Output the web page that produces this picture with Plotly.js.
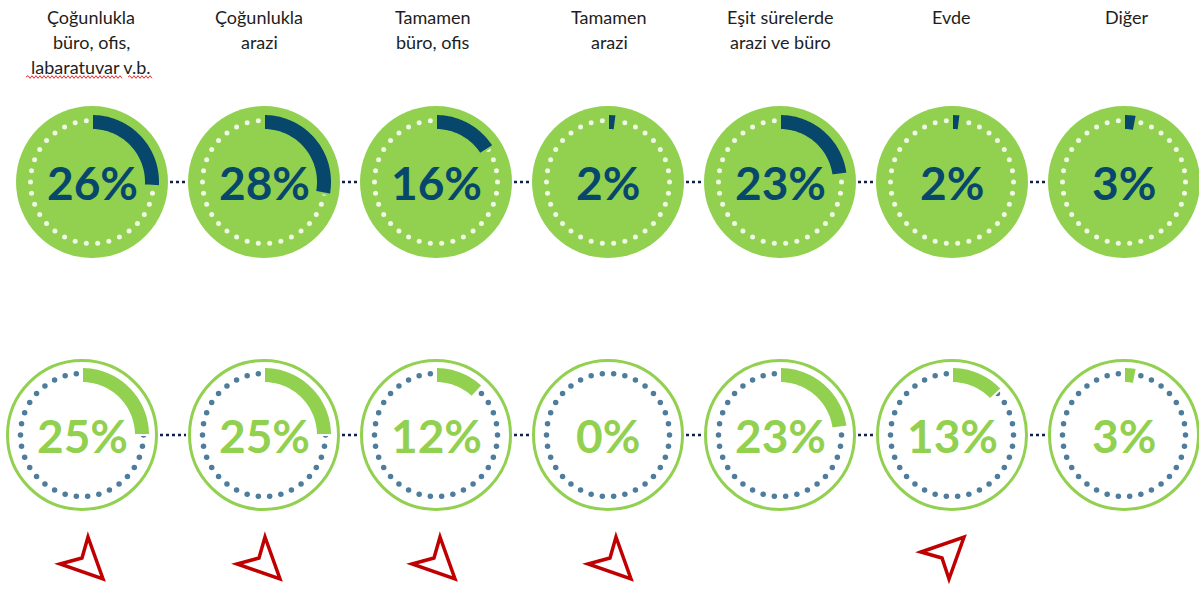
<!DOCTYPE html>
<html><head><meta charset="utf-8">
<script src="https://cdn.plot.ly/plotly-3.0.1.min.js"></script>
<style>html,body{margin:0;padding:0;background:#fff;overflow:hidden}#chart{width:1199px;height:590px}</style>
</head><body><div id="chart"></div>
<script>
// ---- data ----
const categories = [
  "Çoğunlukla<br>büro, ofis,<br>labaratuvar v.b.",
  "Çoğunlukla<br>arazi",
  "Tamamen<br>büro, ofis",
  "Tamamen<br>arazi",
  "Eşit sürelerde<br>arazi ve büro",
  "Evde",
  "Diğer"
];
const topValues = [26, 28, 16, 2, 23, 2, 3];
const bottomValues = [25, 25, 12, 0, 23, 13, 3];

// ---- layout constants ----
const W = 1199, H = 590;
const STEP = 172, X0 = 92;
const TOP_Y = 182, BOT_Y = 435;
const R_CIRCLE = 76, R_DOTS = 61.5, R_IN = 52, R_OUT = 68;
const N_DOTS = 34;
const GREEN = '#92d050', NAVY = '#07476c', DOTBLUE = '#4d7c9c', LINK = '#0f1f4f', RED = '#c00000';
const colX = i => X0 + STEP * i;
const botX = i => colX(i) + (i === 0 ? -10 : 0);
const headerNudge = [-1, -5, -3, 1, 0, -1, 3];
const arrowNudge = [-10, -5, -2, 2, 0, -10, 0];

function arcPath(cx, cy, rIn, rOut, pct) {
  const a1 = pct / 100 * 2 * Math.PI;
  const n = Math.max(4, Math.ceil(pct * 2));
  const pts = [];
  for (let k = 0; k <= n; k++) { const a = a1 * k / n; pts.push([cx + rOut * Math.sin(a), cy - rOut * Math.cos(a)]); }
  for (let k = n; k >= 0; k--) { const a = a1 * k / n; pts.push([cx + rIn * Math.sin(a), cy - rIn * Math.cos(a)]); }
  return 'M' + pts.map(p => p[0].toFixed(2) + ',' + p[1].toFixed(2)).join('L') + 'Z';
}

const shapes = [], annotations = [], traces = [];
const topDotsX = [], topDotsY = [], botDotsX = [], botDotsY = [];

categories.forEach((cat, i) => {
  const tx = colX(i), bx = botX(i);
  shapes.push({type: 'circle', layer: 'below', xref: 'x', yref: 'y',
    x0: tx - R_CIRCLE, x1: tx + R_CIRCLE, y0: TOP_Y - R_CIRCLE, y1: TOP_Y + R_CIRCLE,
    fillcolor: GREEN, line: {width: 0}});
  shapes.push({type: 'circle', layer: 'below', xref: 'x', yref: 'y',
    x0: bx - R_CIRCLE + 1.5, x1: bx + R_CIRCLE - 1.5, y0: BOT_Y - R_CIRCLE + 1.5, y1: BOT_Y + R_CIRCLE - 1.5,
    fillcolor: 'rgba(0,0,0,0)', line: {width: 3, color: GREEN}});
  for (let k = 0; k < N_DOTS; k++) {
    const a = -Math.PI / 2 + 2 * Math.PI * k / N_DOTS;
    topDotsX.push(tx + R_DOTS * Math.sin(a)); topDotsY.push(TOP_Y - R_DOTS * Math.cos(a));
    botDotsX.push(bx + R_DOTS * Math.sin(a)); botDotsY.push(BOT_Y - R_DOTS * Math.cos(a));
  }
  if (topValues[i] > 0) shapes.push({type: 'path', layer: 'above', xref: 'x', yref: 'y',
    path: arcPath(tx, TOP_Y, R_IN, R_OUT, topValues[i]), fillcolor: NAVY, line: {width: 2, color: GREEN}});
  if (bottomValues[i] > 0) shapes.push({type: 'path', layer: 'above', xref: 'x', yref: 'y',
    path: arcPath(bx, BOT_Y, R_IN, R_OUT, bottomValues[i]), fillcolor: GREEN, line: {width: 2, color: '#ffffff'}});
  annotations.push({x: tx, y: TOP_Y, xref: 'x', yref: 'y', showarrow: false, xanchor: 'center', yanchor: 'middle',
    text: topValues[i] + '%', font: {family: 'Lato', size: 46, weight: 700, color: NAVY}});
  annotations.push({x: bx, y: BOT_Y, xref: 'x', yref: 'y', showarrow: false, xanchor: 'center', yanchor: 'middle',
    text: bottomValues[i] + '%', font: {family: 'Lato', size: 46, weight: 700, color: GREEN}});
  cat.split('<br>').forEach((line, k) => {
    annotations.push({x: tx + headerNudge[i], y: 17 + 25 * k, xref: 'x', yref: 'y', showarrow: false,
      xanchor: 'center', yanchor: 'middle', text: line, font: {family: 'Lato', size: 18, color: '#1e1e1e'}});
  });
  if (i < categories.length - 1) {
    shapes.push({type: 'line', xref: 'x', yref: 'y', x0: tx + R_CIRCLE + 2, x1: colX(i + 1) - R_CIRCLE - 2,
      y0: TOP_Y, y1: TOP_Y, line: {color: LINK, width: 2.5, dash: 'dot'}});
    shapes.push({type: 'line', xref: 'x', yref: 'y', x0: bx + R_CIRCLE + 2, x1: botX(i + 1) - R_CIRCLE - 2,
      y0: BOT_Y, y1: BOT_Y, line: {color: LINK, width: 2.5, dash: 'dot'}});
  }
  const d = bottomValues[i] - topValues[i];
  if (d !== 0) {
    const nx = tx + arrowNudge[i], ny = 558;
    let pts;
    if (d < 0) pts = [[nx + 6, ny - 21], [nx + 21, ny + 21], [nx - 22, ny + 6]];
    else pts = [[nx - 21, ny - 6], [nx + 22, ny - 21], [nx + 7, ny + 21]];
    const path = 'M' + pts.map(p => p[0] + ',' + p[1]).join('L') + 'L' + nx + ',' + ny + 'Z';
    shapes.push({type: 'path', xref: 'x', yref: 'y', path: path, fillcolor: 'rgba(0,0,0,0)',
      line: {color: RED, width: 3.5}});
  }
});

function squiggle(x0, x1, y) {
  let p = 'M' + x0 + ',' + y; let up = true;
  for (let x = x0 + 2; x <= x1; x += 2) { p += 'L' + x + ',' + (y + (up ? -1.3 : 1.3)); up = !up; }
  return p;
}
shapes.push({type: 'path', xref: 'x', yref: 'y', path: squiggle(26, 122, 77), line: {color: '#e03030', width: 1}});
shapes.push({type: 'path', xref: 'x', yref: 'y', path: squiggle(128, 153, 77), line: {color: '#e03030', width: 1}});

traces.push({type: 'scatter', mode: 'markers', x: topDotsX, y: topDotsY, hoverinfo: 'skip',
  marker: {size: 5, color: 'rgba(255,255,255,0.85)'}});
traces.push({type: 'scatter', mode: 'markers', x: botDotsX, y: botDotsY, hoverinfo: 'skip',
  marker: {size: 5.5, color: DOTBLUE}});

const layout = {
  width: W, height: H, margin: {l: 0, r: 0, t: 0, b: 0},
  paper_bgcolor: '#ffffff', plot_bgcolor: '#ffffff', showlegend: false,
  xaxis: {range: [0, W], visible: false, fixedrange: true},
  yaxis: {range: [H, 0], visible: false, fixedrange: true},
  shapes: shapes, annotations: annotations
};
Plotly.newPlot('chart', traces, layout, {displayModeBar: false, staticPlot: true});
</script></body></html>
